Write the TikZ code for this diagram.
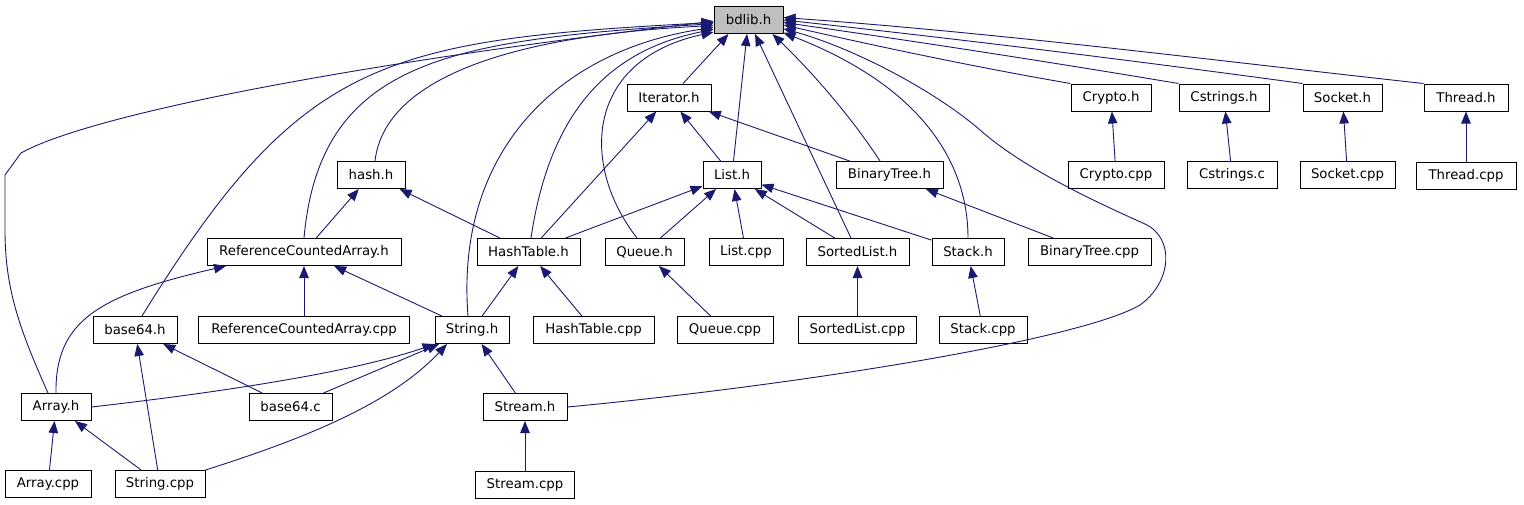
\documentclass[tikz,border=0pt]{standalone}
\usepackage{fontspec}
\setmainfont{DejaVu Sans}
\usepackage{tikz}
\usetikzlibrary{arrows.meta,positioning}
\definecolor{incBlue}{HTML}{191970}
\definecolor{rootGrey}{HTML}{BFBFBF}
\tikzset{
  filebox/.style={rectangle, draw=black, fill=white, line width=1pt, minimum height=27pt, inner sep=2pt, font=\fontsize{13.3}{15}\selectfont},
  rootbox/.style={filebox, fill=rootGrey},
  inc/.style={-{Triangle[length=12pt,width=9.5pt]}, line width=0.9pt, draw=incBlue}
}

\begin{document}
\begin{tikzpicture}[x=1pt, y=-1pt, node distance=50pt]
  \useasboundingbox (0,0) rectangle (1524,504);

  \node[rootbox, minimum width=69pt] (bdlib) at (748.5,20) {bdlib.h};

  \node[filebox, minimum width=84pt] (iterator) at (669,97.5) {Iterator.h};
  \node[filebox, minimum width=80pt] (crypto) at (1111,97.5) {Crypto.h};
  \node[filebox, minimum width=90pt] (cstrings) at (1224,97.5) {Cstrings.h};
  \node[filebox, minimum width=79pt] (socket) at (1342.5,97.5) {Socket.h};
  \node[filebox, minimum width=84pt] (thread) at (1466,97.5) {Thread.h};

  \node[filebox, minimum width=68pt] (hash) at (371,175) {hash.h};
  \node[filebox, minimum width=58pt] (list) at (732,175) {List.h};
  \node[filebox, minimum width=107pt] (bintree) at (889.5,175) {BinaryTree.h};
  \node[filebox, minimum width=96pt] (cryptocpp) at (1116,175) {Crypto.cpp};
  \node[filebox, minimum width=90pt] (cstringsc) at (1232,175) {Cstrings.c};
  \node[filebox, minimum width=95pt] (socketcpp) at (1347.5,175) {Socket.cpp};
  \node[filebox, minimum width=100pt, below=of thread] (threadcpp) {Thread.cpp};

  \node[filebox, minimum width=194pt] (rca) at (304,252) {ReferenceCountedArray.h};
  \node[filebox, minimum width=103pt] (hashtable) at (528.5,252) {HashTable.h};
  \node[filebox, minimum width=79pt] (queue) at (644.5,252) {Queue.h};
  \node[filebox, minimum width=74pt] (listcpp) at (746,252) {List.cpp};
  \node[filebox, minimum width=103pt] (sortedlist) at (857.5,252) {SortedList.h};
  \node[filebox, minimum width=72pt] (stack) at (968,252) {Stack.h};
  \node[filebox, minimum width=123pt] (bintreecpp) at (1089.5,252) {BinaryTree.cpp};

  \node[filebox, minimum width=84pt] (base64h) at (135,330) {base64.h};
  \node[filebox, minimum width=211pt, below=of rca] (rcacpp) {ReferenceCountedArray.cpp};
  \node[filebox, minimum width=74pt] (string) at (472,330) {String.h};
  \node[filebox, minimum width=121pt] (hashtablecpp) at (593.5,330) {HashTable.cpp};
  \node[filebox, minimum width=96pt] (queuecpp) at (725,330) {Queue.cpp};
  \node[filebox, minimum width=118pt, below=of sortedlist] (sortedlistcpp) {SortedList.cpp};
  \node[filebox, minimum width=88pt] (stackcpp) at (983,330) {Stack.cpp};

  \node[filebox, minimum width=70pt] (array) at (56,407) {Array.h};
  \node[filebox, minimum width=83pt] (base64c) at (290.5,407) {base64.c};
  \node[filebox, minimum width=84pt] (stream) at (525,407) {Stream.h};

  \node[filebox, minimum width=86pt] (arraycpp) at (48,484) {Array.cpp};
  \node[filebox, minimum width=90pt] (stringcpp) at (160,484) {String.cpp};
  \node[filebox, minimum width=99pt, below=of stream] (streamcpp) {Stream.cpp};

  % everything includes bdlib.h
  \draw[inc] ([xshift=14pt]iterator.north) -- ([xshift=-20pt]bdlib.south);
  \draw[inc] (list) -- (bdlib);
  \draw[inc] (sortedlist) -- (bdlib);
  \draw[inc] ([xshift=-9.5pt]bintree.north) .. controls (850,115) and (810,70) .. ([xshift=24pt]bdlib.south);
  \draw[inc] (stack.north) .. controls (968,170) and (930,90) .. (bdlib.340);
  \draw[inc] (stream.east) .. controls (800,385) and (1080,340) .. (1140,305)
    .. controls (1172,282) and (1175,238) .. (1145,224)
    .. controls (1080,195) and (1020,165) .. (980,130)
    .. controls (940,95) and (860,50) .. (bdlib.346);
  \draw[inc] (crypto.north west) .. controls (980,68) and (880,47) .. (bdlib.352);
  \draw[inc] (cstrings.north west) .. controls (1050,62) and (920,42) .. (bdlib.356);
  \draw[inc] (socket.north west) .. controls (1130,60) and (950,38) .. (bdlib.0);
  \draw[inc] (thread.north west) .. controls (1210,60) and (1000,33) .. (bdlib.4);
  \draw[inc] ([xshift=4pt]hash.north) .. controls (385,75) and (520,35) .. (bdlib.189);
  \draw[inc] (rca.north) .. controls (320,60) and (450,40) .. (bdlib.186);
  \draw[inc] ([xshift=7pt]base64h.north) .. controls (300,60) and (380,40) .. (bdlib.184);
  \draw[inc] ([xshift=-8pt]array.north) .. controls (20,330) and (5,290) .. (5,230)
    -- (5,175) -- (21,153) .. controls (80,120) and (300,70) .. (bdlib.182);
  \draw[inc] ([xshift=-4pt]string.north) .. controls (455,150) and (560,50) .. (bdlib.192);
  \draw[inc] ([xshift=2.5pt]hashtable.north) .. controls (550,110) and (610,50) .. (bdlib.195);
  \draw[inc] ([xshift=-7.5pt]queue.north) .. controls (580,165) and (585,60) .. (bdlib.199);

  \draw[inc] (list) -- (iterator);
  \draw[inc] (bintree) -- (iterator);
  \draw[inc] (hashtable) -- (iterator);

  \draw[inc] (hashtable) -- (list);
  \draw[inc] (queue) -- (list);
  \draw[inc] (listcpp) -- (list);
  \draw[inc] (sortedlist) -- (list);
  \draw[inc] (stack) -- (list);

  \draw[inc] (bintreecpp) -- (bintree);
  \draw[inc] (cryptocpp) -- (crypto);
  \draw[inc] (cstringsc) -- (cstrings);
  \draw[inc] (socketcpp) -- (socket);
  \draw[inc] (threadcpp) -- (thread);

  \draw[inc] (rca) -- (hash);
  \draw[inc] (hashtable) -- (hash);

  \draw[inc] (array.north) .. controls (55,320) and (100,295) .. ([xshift=-78pt]rca.south);
  \draw[inc] (rcacpp) -- (rca);
  \draw[inc] (string) -- (rca);

  \draw[inc] (string) -- (hashtable);
  \draw[inc] (hashtablecpp) -- (hashtable);
  \draw[inc] (queuecpp) -- (queue);
  \draw[inc] (sortedlistcpp) -- (sortedlist);
  \draw[inc] (stackcpp) -- (stack);

  \draw[inc] (stringcpp) -- (base64h);
  \draw[inc] (base64c) -- (base64h);

  \draw[inc] (array.east) .. controls (240,390) and (360,370) .. (string.south west);
  \draw[inc] (base64c) -- (string);
  \draw[inc] (stringcpp.north east) .. controls (300,440) and (390,405) .. ([xshift=-25pt]string.south);
  \draw[inc] (stream) -- (string);

  \draw[inc] (arraycpp) -- (array);
  \draw[inc] (stringcpp) -- (array);
  \draw[inc] (streamcpp) -- (stream);
\end{tikzpicture}
\end{document}
